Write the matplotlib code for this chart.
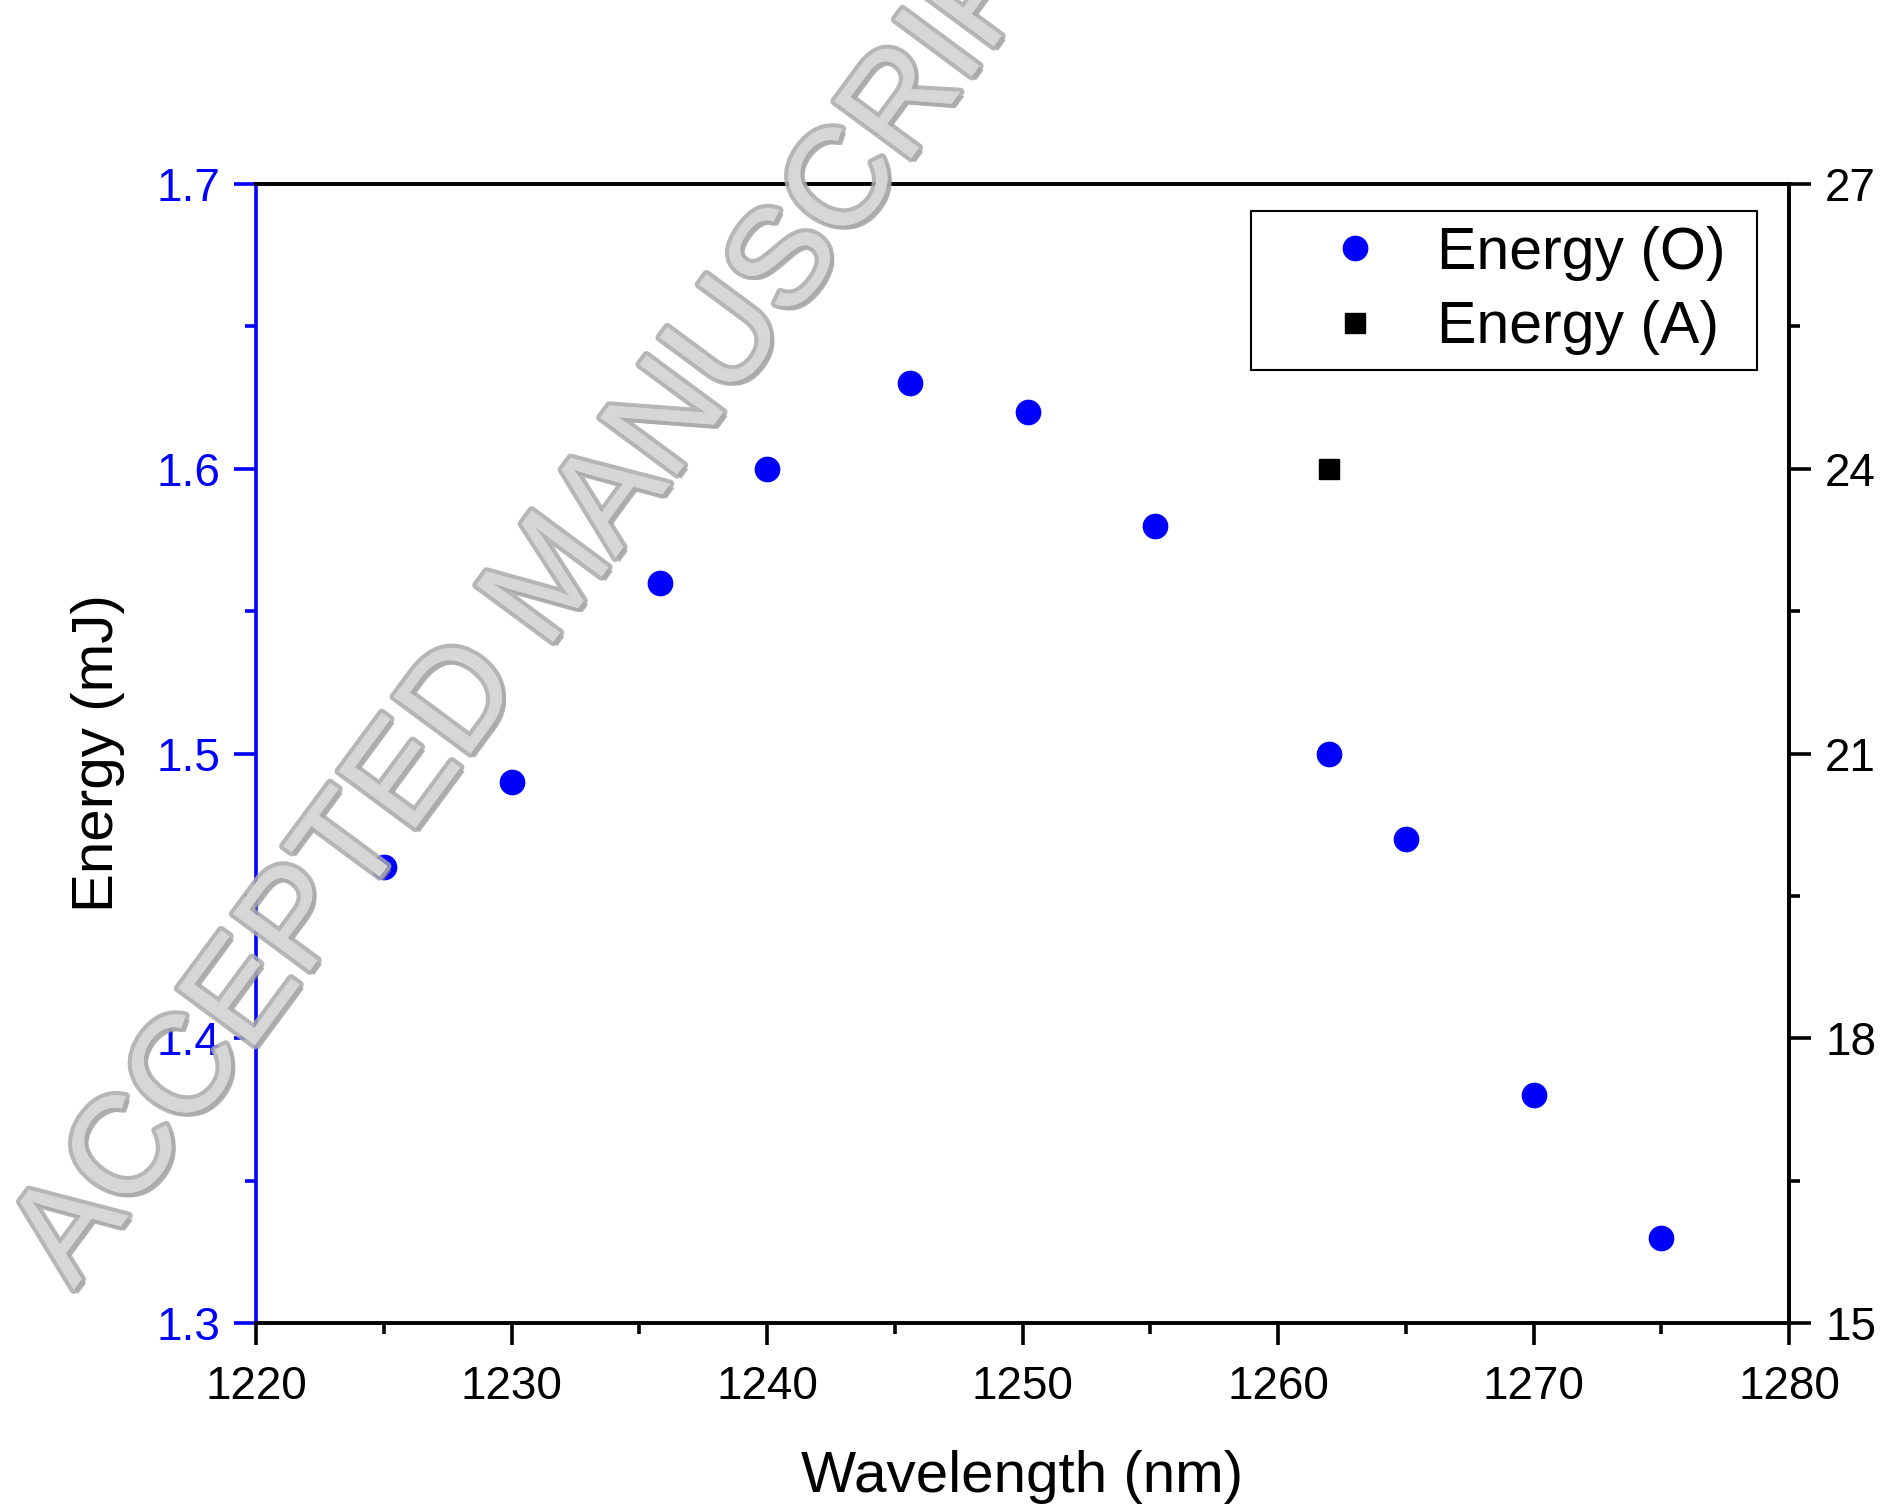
import matplotlib
matplotlib.use("Agg")
import matplotlib.pyplot as plt
import matplotlib.patheffects as pe

plt.rcParams['font.family'] = ['Liberation Sans', 'DejaVu Sans']

# data
wl_O = [1225.0, 1230.0, 1235.8, 1240.0, 1245.6, 1250.2, 1255.2, 1262.0, 1265.0, 1270.0, 1275.0]
energy_O = [1.46, 1.49, 1.56, 1.60, 1.63, 1.62, 1.58, 1.50, 1.47, 1.38, 1.33]
wl_A = [1262.0]
energy_A = [24.0]

x_ticks = [1220, 1230, 1240, 1250, 1260, 1270, 1280]
left_ticks = [1.3, 1.4, 1.5, 1.6, 1.7]
right_ticks = [15, 18, 21, 24, 27]

fig = plt.figure(figsize=(18.88, 15.06), dpi=100)
ax = fig.add_axes([0.1356, 0.1215, 0.812, 0.7563])
ax2 = ax.twinx()

lw = 2.6
ax.plot(wl_O, energy_O, 'o', color='blue', markersize=17.5, label='Energy (O) ', zorder=3)
ax2.plot(wl_A, energy_A, 's', color='black', markersize=14.5, label='Energy (A) ', zorder=3)

ax.set_xlim(1220, 1280)
ax.set_ylim(1.3, 1.7)
ax2.set_ylim(15, 27)
ax.set_xticks(x_ticks)
ax.set_xticks([1225, 1235, 1245, 1255, 1265, 1275], minor=True)
ax.set_yticks(left_ticks)
ax.set_yticks([1.35, 1.45, 1.55, 1.65], minor=True)
ax2.set_yticks(right_ticks)
ax2.set_yticks([16.5, 19.5, 22.5, 25.5], minor=True)

for a in (ax, ax2):
    for s in a.spines.values():
        s.set_linewidth(lw)
ax.spines['left'].set_color('blue')
ax2.spines['left'].set_visible(False)

ax.tick_params(axis='x', which='both', direction='out', width=lw, colors='black',
               labelsize=33, pad=14, top=False)
ax.tick_params(axis='x', which='major', length=16)
ax.tick_params(axis='x', which='minor', length=8)
ax.tick_params(axis='y', which='both', direction='out', width=lw, colors='blue',
               labelsize=33, pad=10, right=False)
ax.tick_params(axis='y', which='major', length=16)
ax.tick_params(axis='y', which='minor', length=8)
ax2.tick_params(axis='y', which='both', direction='out', width=lw, colors='black',
                labelsize=33, pad=10)
ax2.tick_params(axis='y', which='major', length=16)
ax2.tick_params(axis='y', which='minor', length=8)

ax.set_xlabel('Wavelength (nm)', fontsize=42, labelpad=30)
ax.set_ylabel('Energy (mJ)', fontsize=42, labelpad=22, color='black')

h1, l1 = ax.get_legend_handles_labels()
h2, l2 = ax2.get_legend_handles_labels()
leg = ax2.legend(h1 + h2, l1 + l2, loc='upper right', bbox_to_anchor=(0.9306, 0.8599),
                 bbox_transform=fig.transFigure, borderaxespad=0, fontsize=42.5,
                 fancybox=False, edgecolor='black', framealpha=1, handletextpad=-0.1,
                 handlelength=3.0, labelspacing=0.33, borderpad=0.25)
leg.get_frame().set_linewidth(1.5)

# watermark
fig.text(0.039, 0.1434, 'ACCEPTED MANUSCRIPT', fontsize=100,
         family=['Liberation Sans Narrow', 'Liberation Sans', 'DejaVu Sans'],
         fontstretch='condensed',
         rotation=53.5, rotation_mode='anchor', ha='left', va='baseline',
         color='#d8d8d8', alpha=0.85, zorder=10,
         path_effects=[pe.withSimplePatchShadow(offset=(3, -3), shadow_rgbFace='#808080', alpha=0.6),
                       pe.withStroke(linewidth=6, foreground='#aaaaaa'),
                       pe.Normal()])

fig.savefig('out.png', dpi=100)
